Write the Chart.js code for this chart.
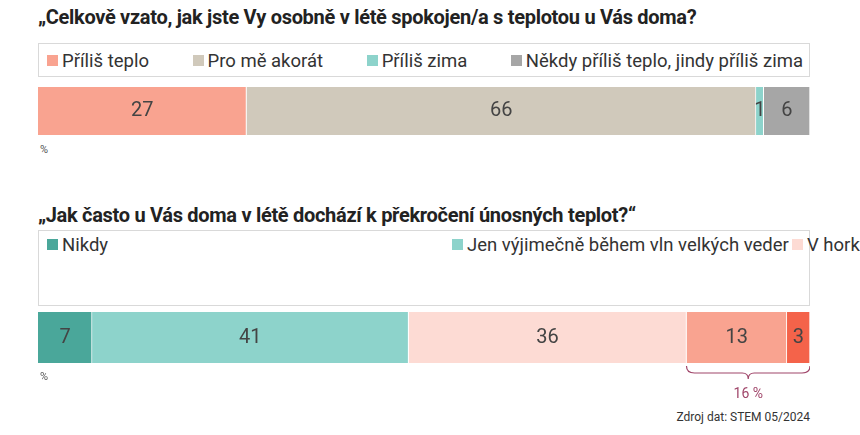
<!DOCTYPE html>
<html><head><meta charset="utf-8">
<script src="https://cdn.jsdelivr.net/npm/chart.js@4"></script>
<style>
body{margin:0;width:860px;height:435px;background:#fff;font-family:Roboto,"Open Sans",sans-serif;color:#222;position:relative;overflow:hidden}
.t{position:absolute;left:38px;font-weight:bold;font-size:20px;letter-spacing:-0.3px;white-space:nowrap}
.lg{position:absolute;left:38px;border:1px solid #d9d9d9;font-size:18.5px;color:#333;white-space:nowrap}
.lg span.b{display:inline-block;width:11px;height:11px;margin-right:4px;vertical-align:1px}
.sm{position:absolute;font-size:11px;color:#555}
canvas{position:absolute}
</style></head><body>
<div class="t" style="top:5px">„Celkově vzato, jak jste Vy osobně v létě spokojen/a s teplotou u Vás doma?</div>
<div class="lg" id="lg1" style="top:43px;height:34px;line-height:34px;padding-left:8px;width:762px;display:flex;justify-content:space-between;padding-right:6px;box-sizing:border-box;width:772px"></div>
<div style="position:absolute;left:38px;top:87px;width:772px;height:48px"><canvas id="c1"></canvas></div>
<div class="sm" style="left:40px;top:143px">%</div>
<div class="t" style="top:203px">„Jak často u Vás doma v létě dochází k překročení únosných teplot?“</div>
<div class="lg" id="lg2" style="top:230px;padding:2px 0 0 8px;width:762px;height:72px"></div>
<div style="position:absolute;left:38px;top:312px;width:772px;height:92px"><canvas id="c2"></canvas></div>
<div class="sm" style="left:40px;top:370px">%</div>
<div class="sm" style="right:50px;top:410px;font-size:12px;color:#333">Zdroj dat: STEM 05/2024</div>
<script>
const cats1 = ['Příliš teplo','Pro mě akorát','Příliš zima','Někdy příliš teplo, jindy příliš zima']
const vals1 = [27,66,1,6]
const cols1 = ['#f9a390','#d0c9bb','#8dd3cb','#a6a6a6']
const cats2 = ['Nikdy','Jen výjimečně během vln velkých veder','V horkých dnech občas ano','Často, poměrně velkou část léta','Skoro celé léto']
const vals2 = [7,41,36,13,3]
const cols2 = ['#4aa79a','#8dd3cb','#fddbd4','#f9a390','#f4634a']
const bracketLabel = '16 %'

document.getElementById('lg1').innerHTML = cats1.map((c,i)=>
  `<span><span class="b" style="background:${cols1[i]}"></span>${c}</span>`).join('')
document.getElementById('lg2').innerHTML = cats2.map((c,i)=>
  `<div style="display:inline-block;width:${i%2?340:405}px;line-height:24.5px"><span class="b" style="background:${cols2[i]}"></span>${c}</div>`).join('')

const labels = {
  id:'labels',
  afterDatasetsDraw(chart){
    const ctx = chart.ctx
    ctx.save()
    ctx.font = '20px Roboto'
    ctx.fillStyle = '#444'
    ctx.textAlign = 'center'
    ctx.textBaseline = 'middle'
    chart.data.datasets.forEach((ds,i)=>{
      const el = chart.getDatasetMeta(i).data[0]
      ctx.fillText(ds.data[0], (el.x+el.base)/2, el.y)
    })
    ctx.restore()
  }
}
const bracket = {
  id:'bracket',
  afterDraw(chart){
    if(!chart.options.plugins.bracketOn) return
    const ctx = chart.ctx, x = chart.scales.x
    const a = x.getPixelForValue(84), b = x.getPixelForValue(100), m = (a+b)/2
    const y = chart.chartArea.bottom + 3
    ctx.save()
    ctx.strokeStyle = '#a0466a'; ctx.lineWidth = 1.2
    ctx.beginPath()
    ctx.moveTo(a,y); ctx.quadraticCurveTo(a,y+7,a+8,y+7)
    ctx.lineTo(m-6,y+7); ctx.quadraticCurveTo(m,y+7,m,y+13)
    ctx.quadraticCurveTo(m,y+7,m+6,y+7); ctx.lineTo(b-8,y+7)
    ctx.quadraticCurveTo(b,y+7,b,y)
    ctx.stroke()
    ctx.fillStyle = '#a0466a'; ctx.font = '14px Roboto'; ctx.textAlign = 'center'
    ctx.fillText(bracketLabel, m, y+32)
    ctx.restore()
  }
}
function bar(id, cats, vals, cols, extra){
  new Chart(document.getElementById(id), {
    type:'bar',
    data:{labels:[''], datasets: cats.map((c,i)=>({label:c, data:[vals[i]], backgroundColor:cols[i], borderColor:'#fff', borderWidth:{right:1}, borderSkipped:false}))},
    options:{
      indexAxis:'y', responsive:true, maintainAspectRatio:false, animation:false,
      layout:{padding:{bottom:extra?41:0}},
      datasets:{bar:{barPercentage:1, categoryPercentage:1}},
      scales:{x:{stacked:true,min:0,max:100,display:false}, y:{stacked:true,display:false}},
      plugins:{legend:{display:false}, tooltip:{enabled:false}, bracketOn:extra}
    },
    plugins:[labels, bracket]
  })
}
bar('c1', cats1, vals1, cols1, false)
bar('c2', cats2, vals2, cols2, true)
</script>
</body></html>
